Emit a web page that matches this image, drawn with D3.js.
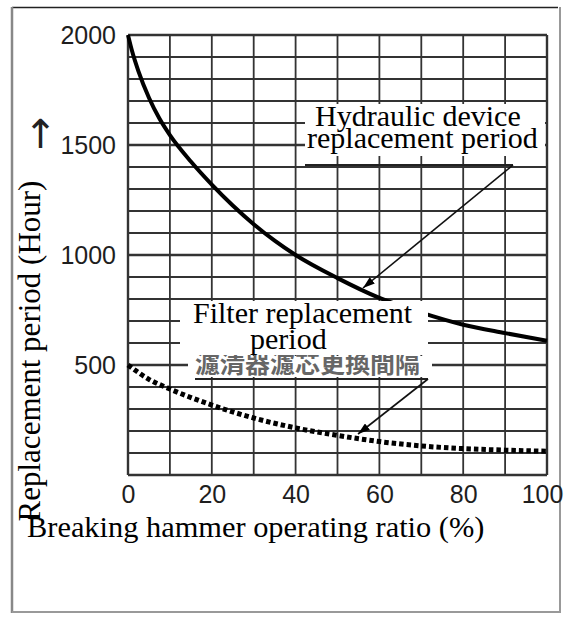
<!DOCTYPE html>
<html>
<head>
<meta charset="utf-8">
<script src="https://cdn.jsdelivr.net/npm/d3@7"></script>
<style>
  html, body { margin: 0; padding: 0; background: #fff; }
  svg { display: block; }
</style>
</head>
<body>
<svg id="chart" width="567" height="618"></svg>
<script>
// ---- data ----
const xTicks = [0, 20, 40, 60, 80, 100];
const yTicks = [500, 1000, 1500, 2000];
const ratioH = [0, 1, 2.5, 5, 7.5, 10, 15, 20, 25, 30, 35, 40, 50, 60, 70, 80, 90, 100];
const hydraulicHours = [2000, 1925, 1835, 1715, 1620, 1545, 1425, 1320, 1225, 1140, 1065, 1000, 895, 805, 738, 683, 645, 610];
const ratioF = [0, 5, 10, 20, 30, 40, 50, 60, 70, 80, 90, 100];
const filterHours = [500, 435, 391, 318, 259, 214, 180, 152, 132, 120, 113, 108];
const xTitle = "Breaking hammer operating ratio (%)";
const yTitle = "Replacement period (Hour)";
const hydraulicLabel = ["Hydraulic device", "replacement period"];
const filterLabel = ["Filter replacement", "period"];
const filterOriginal = "濾清器濾芯更換間隔";

// ---- layout ----
const svg = d3.select("#chart");
const x = d3.scaleLinear().domain([0, 100]).range([128, 547]);
const y = d3.scaleLinear().domain([0, 2000]).range([475, 35]);

svg.append("rect").attr("width", 567).attr("height", 618).attr("fill", "#fff");

// outer frame
svg.append("line").attr("x1", 12).attr("x2", 558).attr("y1", 7.5).attr("y2", 7.5).attr("stroke", "#222").attr("stroke-width", 1.6);
svg.append("line").attr("x1", 12).attr("x2", 12).attr("y1", 7).attr("y2", 613).attr("stroke", "#888").attr("stroke-width", 2.5);
svg.append("line").attr("x1", 560).attr("x2", 560).attr("y1", 7).attr("y2", 613).attr("stroke", "#999").attr("stroke-width", 2);
svg.append("line").attr("x1", 12).attr("x2", 560).attr("y1", 612).attr("y2", 612).attr("stroke", "#999").attr("stroke-width", 2);

// grid
const grid = svg.append("g").attr("stroke", "#333");
grid.selectAll("line.h").data(d3.range(0, 2001, 100)).join("line")
  .attr("x1", x(0)).attr("x2", x(100))
  .attr("y1", d => y(d)).attr("y2", d => y(d))
  .attr("stroke-width", d => d % 500 === 0 ? 2.4 : 1.8);
grid.selectAll("line.v").data(d3.range(0, 101, 10)).join("line")
  .attr("y1", y(0)).attr("y2", y(2000))
  .attr("x1", d => x(d)).attr("x2", d => x(d))
  .attr("stroke-width", d => (d === 0 || d === 100) ? 2.4 : 1.8);

// axes (labels only)
const yAxis = svg.append("g").attr("transform", `translate(${x(0)},0)`)
  .call(d3.axisLeft(y).tickValues(yTicks).tickSize(0).tickPadding(12).tickFormat(d3.format("d")));
const xAxis = svg.append("g").attr("transform", `translate(0,${y(0)})`)
  .call(d3.axisBottom(x).tickValues(xTicks).tickSize(0).tickPadding(10).tickFormat(d3.format("d")));
[yAxis, xAxis].forEach(a => {
  a.select(".domain").remove();
  a.selectAll("text").attr("font-family", "'Liberation Sans', Arial, sans-serif")
    .attr("font-size", 25).attr("fill", "#1e1e1e");
});
xAxis.selectAll("text").filter(d => d === 100).attr("dx", -5);

// curves
const line = d3.line().curve(d3.curveMonotoneX).x(d => x(d[0])).y(d => y(d[1]));
svg.append("path").datum(ratioH.map((r, i) => [r, hydraulicHours[i]]))
  .attr("d", line).attr("fill", "none").attr("stroke", "#000").attr("stroke-width", 4);
svg.append("path").datum(ratioF.map((r, i) => [r, filterHours[i]]))
  .attr("d", line).attr("fill", "none").attr("stroke", "#000").attr("stroke-width", 5)
  .attr("stroke-dasharray", "4.5,3");

// original (partly covered) Chinese filter label
svg.append("rect").attr("x", 188).attr("y", 356).attr("width", 244).attr("height", 21).attr("fill", "#fff");
svg.append("text").attr("x", 195).attr("y", 373).text(filterOriginal)
  .attr("font-family", "'Noto Sans CJK TC', 'Noto Sans CJK SC', sans-serif")
  .attr("font-weight", "bold").attr("font-size", 25).attr("fill", "#666");
svg.append("line").attr("x1", 195).attr("x2", 428).attr("y1", 379).attr("y2", 379)
  .attr("stroke", "#222").attr("stroke-width", 1.8);

// hydraulic underline
svg.append("line").attr("x1", 305).attr("x2", 513).attr("y1", 165).attr("y2", 165)
  .attr("stroke", "#222").attr("stroke-width", 1.8);

// arrow marker
svg.append("defs").append("marker").attr("id", "ah")
  .attr("viewBox", "0 0 12 8").attr("refX", 12).attr("refY", 4)
  .attr("markerWidth", 12).attr("markerHeight", 8).attr("markerUnits", "userSpaceOnUse")
  .attr("orient", "auto")
  .append("path").attr("d", "M0,0 L12,4 L0,8 Z").attr("fill", "#000");

svg.append("line").attr("x1", 513).attr("y1", 165).attr("x2", 363).attr("y2", 288)
  .attr("stroke", "#111").attr("stroke-width", 1.6).attr("marker-end", "url(#ah)");
svg.append("line").attr("x1", 428).attr("y1", 379).attr("x2", 358).attr("y2", 434)
  .attr("stroke", "#111").attr("stroke-width", 1.6).attr("marker-end", "url(#ah)");

// English overlay labels
const serif = "'Liberation Serif', 'Times New Roman', serif";
svg.append("rect").attr("x", 305).attr("y", 104).attr("width", 240).attr("height", 52).attr("fill", "#fff");
svg.append("text").attr("x", 315).attr("y", 126).text(hydraulicLabel[0])
  .attr("font-family", serif).attr("font-size", 30).attr("fill", "#000");
svg.append("text").attr("x", 307).attr("y", 148).text(hydraulicLabel[1])
  .attr("font-family", serif).attr("font-size", 30).attr("fill", "#000");

svg.append("rect").attr("x", 180).attr("y", 301).attr("width", 248).attr("height", 54).attr("fill", "#fff");
svg.append("text").attr("x", 193).attr("y", 323).text(filterLabel[0])
  .attr("font-family", serif).attr("font-size", 30).attr("fill", "#000");
svg.append("text").attr("x", 250).attr("y", 349).text(filterLabel[1])
  .attr("font-family", serif).attr("font-size", 30).attr("fill", "#000");

// axis titles
svg.append("text").attr("x", 27).attr("y", 537).text(xTitle)
  .attr("font-family", serif).attr("font-size", 30.4).attr("fill", "#000");
svg.append("text").attr("transform", "translate(40,351) rotate(-90)")
  .attr("text-anchor", "middle").text(yTitle)
  .attr("font-family", serif).attr("font-size", 31).attr("fill", "#000");

// up arrow next to the y axis
svg.append("text").attr("x", 40.5).attr("y", 148).attr("text-anchor", "middle").text("↑")
  .attr("font-family", "'DejaVu Sans', sans-serif").attr("font-size", 40).attr("fill", "#222");
</script>
</body>
</html>
